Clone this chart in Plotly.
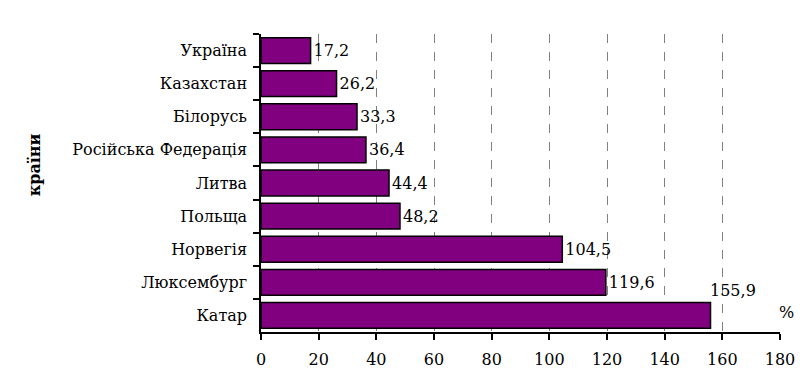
import plotly.graph_objects as go

countries = ["Україна", "Казахстан", "Білорусь", "Російська Федерація", "Литва",
             "Польща", "Норвегія", "Люксембург", "Катар"]
values = [17.2, 26.2, 33.3, 36.4, 44.4, 48.2, 104.5, 119.6, 155.9]
labels = [f"{v:.1f}".replace(".", ",") for v in values]
xticks = [0, 20, 40, 60, 80, 100, 120, 140, 160, 180]
gridvals = [20, 40, 60, 80, 100, 120, 140, 160]

FONT = "DejaVu Serif"
FS = 16
inside_text = [t if c != "Катар" else "" for t, c in zip(labels, countries)]

fig = go.Figure()
fig.add_trace(go.Bar(
    x=values, y=countries, orientation="h",
    marker=dict(color="#800080", line=dict(color="#000000", width=1.5)),
    text=inside_text, textposition="outside", cliponaxis=False,
    textfont=dict(family=FONT, size=FS, color="#000000"),
    hoverinfo="skip",
))
# invisible trace to anchor the grid axis
fig.add_trace(go.Scatter(x=[0], y=[countries[0]], xaxis="x2", mode="markers",
                         marker=dict(opacity=0), showlegend=False, hoverinfo="skip"))

fig.update_layout(
    width=807, height=387,
    margin=dict(l=261, r=24, t=34, b=55),
    paper_bgcolor="white", plot_bgcolor="white",
    showlegend=False, bargap=0.22,
    font=dict(family=FONT, size=FS, color="#000000"),
    xaxis=dict(range=[0, 180], tickvals=xticks, showgrid=False, zeroline=False,
               showline=True, linecolor="#000000", linewidth=1.5,
               ticks="outside", ticklen=6, tickcolor="#000000", tickwidth=1.5,
               ticklabelstandoff=6,
               tickfont=dict(family=FONT, size=FS, color="#000000")),
    xaxis2=dict(range=[0, 180], overlaying="x", tickvals=gridvals, showgrid=True,
                gridcolor="#808080", griddash="dash", gridwidth=1,
                showticklabels=False, ticks="", zeroline=False, showline=False,
                layer="below traces", side="bottom"),
    yaxis=dict(range=[len(countries) - 0.5, -0.5], showline=True, linecolor="#000000",
               linewidth=1.5, ticks="outside", ticklen=6, tickcolor="#000000",
               tickwidth=1.5, tickson="boundaries", ticklabelstandoff=9,
               showgrid=False, categoryorder="array", categoryarray=countries,
               tickfont=dict(family=FONT, size=FS, color="#000000")),
)

fig.add_annotation(x=values[-1], y=countries[-1], text=labels[-1], showarrow=False,
                   xanchor="left", yanchor="middle", xshift=-3, yshift=25,
                   font=dict(family=FONT, size=FS, color="#000000"))
fig.add_annotation(xref="paper", yref="paper", x=-0.437, y=0.56, text="<b>країни</b>",
                   textangle=-90, showarrow=False, xanchor="center", yanchor="middle",
                   font=dict(family=FONT, size=FS, color="#000000"))
fig.add_annotation(xref="paper", yref="paper", x=1.0134, y=0.064, text="%",
                   showarrow=False, xanchor="center", yanchor="middle",
                   font=dict(family=FONT, size=FS, color="#000000"))

fig.write_html("out.html", post_script="document.body.style.margin='0';",
               config={"displayModeBar": False})
